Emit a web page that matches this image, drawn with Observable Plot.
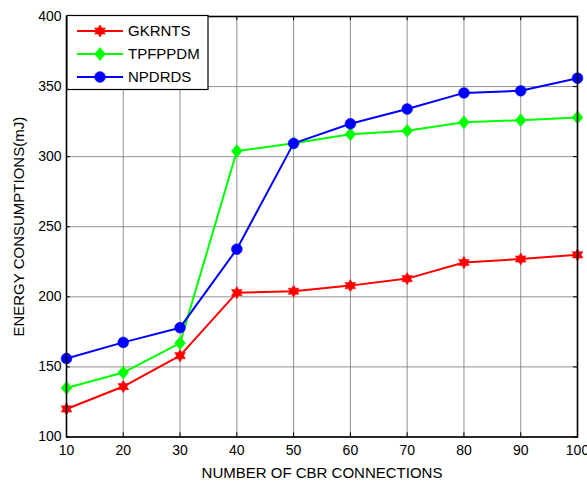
<!DOCTYPE html>
<html><head><meta charset="utf-8">
<script src="https://cdn.jsdelivr.net/npm/d3@7"></script>
<script src="https://cdn.jsdelivr.net/npm/@observablehq/plot@0.6"></script>
<style>
html,body{margin:0;padding:0;background:#fff;}
#wrap{position:relative;width:587px;height:482px;}
svg{font-family:"Liberation Sans",Arial,sans-serif;}
</style></head>
<body><div id="wrap"></div>
<script>
const connections = [10, 20, 30, 40, 50, 60, 70, 80, 90, 100];
const gkrnts  = [120, 136, 158, 203, 204, 208, 213, 224.5, 227, 230];
const tpfppdm = [135, 146, 167, 304, 309.5, 316, 318.5, 324.5, 326, 328];
const npdrds  = [156, 167.5, 178, 234, 309.5, 323.5, 334, 345.5, 347, 356];
const seriesNames = ["GKRNTS", "TPFPPDM", "NPDRDS"];
const seriesColors = ["#ff0000", "#00ff00", "#0000ff"];
const xTicks = [10, 20, 30, 40, 50, 60, 70, 80, 90, 100];
const yTicks = [100, 150, 200, 250, 300, 350, 400];

const hexagram = {draw(ctx, size){
  const R = Math.sqrt(size/Math.PI), r = R/Math.sqrt(3);
  for(let i=0;i<12;i++){const a=i*Math.PI/6-Math.PI/2, q=i%2?r:R;
    const px=q*Math.cos(a), py=q*Math.sin(a); i?ctx.lineTo(px,py):ctx.moveTo(px,py);}
  ctx.closePath();}};
const diamond = {draw(ctx, size){
  const R = Math.sqrt(size/Math.PI);
  ctx.moveTo(0,-R); ctx.lineTo(0.82*R,0); ctx.lineTo(0,R); ctx.lineTo(-0.82*R,0); ctx.closePath();}};
const symbols = [hexagram, diamond, "circle"];
const radii = [6.2, 6.6, 5.4];

const allValues = [gkrnts, tpfppdm, npdrds];
const rows = allValues.map((vals,k)=>connections.map((x,i)=>({x, y: vals[i], s: seriesNames[k]})));

const marks = [
  Plot.gridX(xTicks, {stroke:"#777", strokeOpacity:0.8, strokeWidth:1}),
  Plot.gridY(yTicks, {stroke:"#777", strokeOpacity:0.8, strokeWidth:1}),
  Plot.axisX(xTicks, {tickSize:0, tickPadding:8, fontSize:14, label:"NUMBER OF CBR CONNECTIONS", labelArrow:"none", labelAnchor:"center", labelOffset:41, tickFormat:d=>d}),
  Plot.axisY(yTicks, {tickSize:0, tickPadding:5, fontSize:14, label:"ENERGY CONSUMPTIONS(mJ)", labelArrow:"none", labelAnchor:"center", labelOffset:53, tickFormat:d=>d}),
  Plot.ruleX(xTicks, {y1:100, y2:103, stroke:"#000"}),
  Plot.ruleX(xTicks, {y1:397, y2:400, stroke:"#000"}),
  Plot.ruleY(yTicks, {x1:10, x2:10.7, stroke:"#000"}),
  Plot.ruleY(yTicks, {x1:99.3, x2:100, stroke:"#000"}),
];
rows.forEach((data,k)=>{
  marks.push(Plot.line(data, {x:"x", y:"y", stroke:seriesColors[k], strokeWidth:2}));
  marks.push(Plot.dot(data, {x:"x", y:"y", symbol:()=>symbols[k], r:radii[k], fill:seriesColors[k], stroke:seriesColors[k], strokeWidth:0.5}));
});
marks.push(Plot.frame({stroke:"#000", strokeWidth:1.6}));

const chart = Plot.plot({
  width:587, height:482,
  marginLeft:66, marginRight:10, marginTop:16, marginBottom:45.5,
  style:{fontFamily:'"Liberation Sans",Arial,sans-serif', fontSize:"14px", color:"#000", background:"#fff"},
  x:{domain:[10,100]},
  y:{domain:[100,400]},
  marks
});
document.getElementById("wrap").appendChild(chart);
d3.select(chart).selectAll("[aria-label='x-axis label'] text, [aria-label='y-axis label'] text")
  .style("font-size","15px")
  .each(function(){ this.textContent = this.textContent.replace(/\s*[→↑←↓]\s*/g, "").trim(); });

// legend overlay
const svg = d3.select(chart);
const lg = svg.append("g").attr("transform","translate(67,15.5)");
lg.append("rect").attr("width",141).attr("height",74).attr("fill","#fff").attr("stroke","#000").attr("stroke-width",1.2);
seriesNames.forEach((name,k)=>{
  const yy = 15.5 + k*23;
  const g = lg.append("g").attr("transform",`translate(0,${yy})`);
  g.append("line").attr("x1",10).attr("x2",56).attr("y1",0).attr("y2",0).attr("stroke",seriesColors[k]).attr("stroke-width",2);
  const sym = k===2 ? d3.symbol(d3.symbolCircle, Math.PI*radii[k]*radii[k]) : d3.symbol(symbols[k], Math.PI*radii[k]*radii[k]);
  g.append("path").attr("transform","translate(33,0)").attr("d",sym()).attr("fill",seriesColors[k]).attr("stroke",seriesColors[k]).attr("stroke-width",0.5);
  g.append("text").attr("x",61).attr("y",0).attr("dy","0.35em").attr("text-anchor","start").attr("font-size","15px").attr("fill","#000").text(name);
});
</script></body></html>
